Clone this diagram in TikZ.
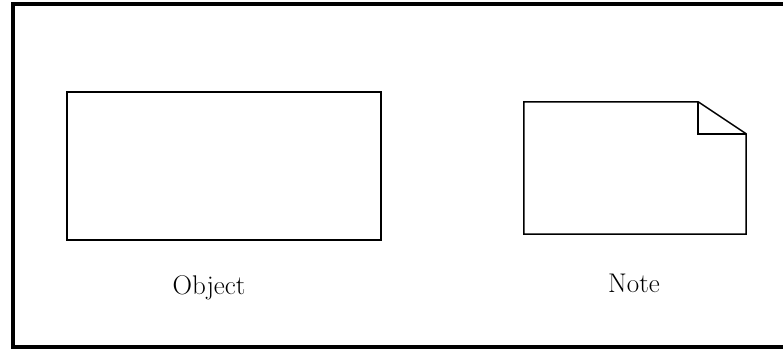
\documentclass[tikz,border=0pt]{standalone}
\usetikzlibrary{calc,positioning}

\begin{document}
\begin{tikzpicture}[
    x=1pt, y=-1pt,
    objbox/.style={draw, line width=1.5pt, minimum width=314pt, minimum height=148pt, inner sep=0pt},
    notebox/.style={minimum width=222pt, minimum height=132pt, inner sep=0pt},
    lbl/.style={font=\fontsize{27}{32}\selectfont, inner sep=0pt, anchor=base}
]
\useasboundingbox (0,0) rectangle (783,349);
\draw[line width=4pt] (800,4) -- (13,4) -- (13,347) -- (800,347);

\node[objbox] (obj) at (224,166) {};
\node[notebox] (note) at (635,168) {};
\draw[line width=1.5pt, line join=miter]
    (note.north west) -- ($(note.north east)+(-48,0)$) -- ($(note.north east)+(0,32)$)
    -- (note.south east) -- (note.south west) -- cycle;
\draw[line width=1.5pt]
    ($(note.north east)+(-48,0)$) -- ($(note.north east)+(-48,32)$) -- ($(note.north east)+(0,32)$);

\node[lbl] (objlbl) at (209,294) {Object};
\node[lbl] (notelbl) at (634,292) {Note};
\end{tikzpicture}
\end{document}
